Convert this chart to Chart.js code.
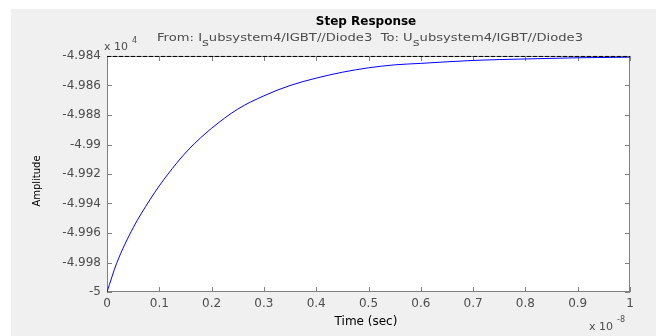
<!DOCTYPE html>
<html>
<head>
<meta charset="utf-8">
<script src="https://cdn.jsdelivr.net/npm/chart.js@4"></script>
<style>
  body { margin: 0; background: #ffffff; }
  #wrap { position: absolute; left: 0; top: 0; width: 656px; height: 336px; }
</style>
</head>
<body>
<div id="wrap"><canvas id="grafico" width="656" height="336"></canvas></div>
<script>
// tempo em unidades de 1e-8 s, amplitude em unidades de 1e4
const tempo = [0, 0.0185, 0.05, 0.082, 0.1, 0.133, 0.157, 0.2, 0.25, 0.3, 0.35, 0.4, 0.45, 0.5, 0.55, 0.6, 0.7, 0.8, 0.9, 1.0];
const amplitude = [-5.0, -4.99805, -4.99565, -4.99375, -4.9928, -4.99127, -4.9903, -4.9889, -4.9876, -4.9867, -4.9860, -4.9855, -4.9851, -4.9848, -4.9846, -4.9845, -4.9843, -4.9842, -4.98412, -4.98408];
const regime = -4.98403; // valor final (linha tracejada)
const xTicks = [0, 0.1, 0.2, 0.3, 0.4, 0.5, 0.6, 0.7, 0.8, 0.9, 1];
const yTicks = [-5, -4.998, -4.996, -4.994, -4.992, -4.99, -4.988, -4.986, -4.984];

const cinza = '#4d4d4d';
const fonte = '"DejaVu Sans", sans-serif';

const extras = {
  id: 'extras',
  beforeDraw(chart) {
    const c = chart.ctx;
    c.save();
    c.fillStyle = '#f0f0f0';
    c.fillRect(11, 9, 645, 327);
    const a = chart.chartArea;
    c.fillStyle = '#ffffff';
    c.fillRect(a.left, a.top, a.right - a.left, a.bottom - a.top);
    c.restore();
  },
  beforeDatasetsDraw(chart) {
    const c = chart.ctx;
    const a = chart.chartArea;
    const xs = chart.scales.x, ys = chart.scales.y;
    c.save();
    // moldura
    c.strokeStyle = '#808080';
    c.lineWidth = 1;
    c.strokeRect(a.left + 0.5, a.top + 0.5, a.right - a.left - 1, a.bottom - a.top - 1);
    // marcas internas
    c.beginPath();
    xTicks.forEach(v => {
      const px = Math.round(xs.getPixelForValue(v)) + 0.5;
      c.moveTo(px, a.bottom); c.lineTo(px, a.bottom - 5);
      c.moveTo(px, a.top); c.lineTo(px, a.top + 5);
    });
    yTicks.forEach(v => {
      const py = Math.round(ys.getPixelForValue(v)) + 0.5;
      c.moveTo(a.left, py); c.lineTo(a.left + 5, py);
      c.moveTo(a.right, py); c.lineTo(a.right - 5, py);
    });
    c.stroke();
    c.restore();
  },
  afterDraw(chart) {
    const c = chart.ctx;
    c.save();
    // titulo
    c.fillStyle = '#000';
    c.textAlign = 'center';
    c.textBaseline = 'alphabetic';
    c.font = 'bold 12px ' + fonte;
    c.fillText('Step Response', 366, 25);

    // subtitulo com subscrito
    c.fillStyle = cinza;
    c.textAlign = 'left';
    c.font = '11px ' + fonte;
    const partes = [['From: I', 0], ['s', 5], ['ubsystem4/IGBT//Diode3  To: U', 0], ['s', 5], ['ubsystem4/IGBT//Diode3', 0]];
    let total = 0;
    partes.forEach(p => { total += c.measureText(p[0]).width; });
    const esc = (583 - 157) / total;
    c.save();
    c.translate(157, 0);
    c.scale(esc, 1);
    let x = 0;
    partes.forEach(p => {
      c.fillText(p[0], x, 41 + p[1]);
      x += c.measureText(p[0]).width;
    });
    c.restore();

    // multiplicadores
    c.font = '11px ' + fonte;
    c.fillText('x 10', 104, 50);
    c.font = '8px ' + fonte;
    c.fillText('4', 132, 43);
    c.font = '11px ' + fonte;
    c.fillText('x 10', 589, 330);
    c.font = '8px ' + fonte;
    c.fillText('-8', 617, 322);

    // rotulos dos eixos
    c.fillStyle = '#000';
    c.font = '12px ' + fonte;
    c.textAlign = 'center';
    c.fillText('Time (sec)', 366, 325);
    c.font = '10px ' + fonte;
    c.translate(40, 181);
    c.rotate(-Math.PI / 2);
    c.fillText('Amplitude', 0, 0);
    c.restore();
  }
};

const ctx = document.getElementById('grafico').getContext('2d');
new Chart(ctx, {
  type: 'line',
  data: {
    datasets: [
      {
        label: 'Regime',
        data: [{ x: 0, y: regime }, { x: 1, y: regime }],
        borderColor: '#000',
        borderWidth: 1,
        borderDash: [4, 2],
        pointRadius: 0,
        clip: false,
        fill: false
      },
      {
        label: 'Step',
        data: tempo.map((t, i) => ({ x: t, y: amplitude[i] })),
        borderColor: '#0000ff',
        borderWidth: 1,
        pointRadius: 0,
        cubicInterpolationMode: 'monotone',
        fill: false
      }
    ]
  },
  options: {
    responsive: false,
    animation: false,
    layout: { padding: { left: 0, right: 26, top: 56, bottom: 0 } },
    plugins: { legend: { display: false }, tooltip: { enabled: false }, title: { display: false } },
    scales: {
      x: {
        type: 'linear',
        min: 0, max: 1,
        afterFit(s) { s.height = 44; },
        afterBuildTicks(s) { s.ticks = xTicks.map(v => ({ value: v })); },
        grid: { display: false, drawTicks: false },
        border: { display: false },
        ticks: {
          color: cinza,
          padding: 5,
          font: { size: 12, family: fonte },
          maxRotation: 0,
          autoSkip: false,
          callback: v => String(parseFloat(v.toFixed(1)))
        }
      },
      y: {
        type: 'linear',
        min: -5, max: -4.984,
        afterFit(s) { s.width = 107; },
        afterBuildTicks(s) { s.ticks = yTicks.map(v => ({ value: v })); },
        grid: { display: false, drawTicks: false },
        border: { display: false },
        ticks: {
          color: cinza,
          padding: 6,
          font: { size: 12, family: fonte },
          autoSkip: false,
          callback: v => String(parseFloat(v.toFixed(3)))
        }
      }
    }
  },
  plugins: [extras]
});
</script>
</body>
</html>
